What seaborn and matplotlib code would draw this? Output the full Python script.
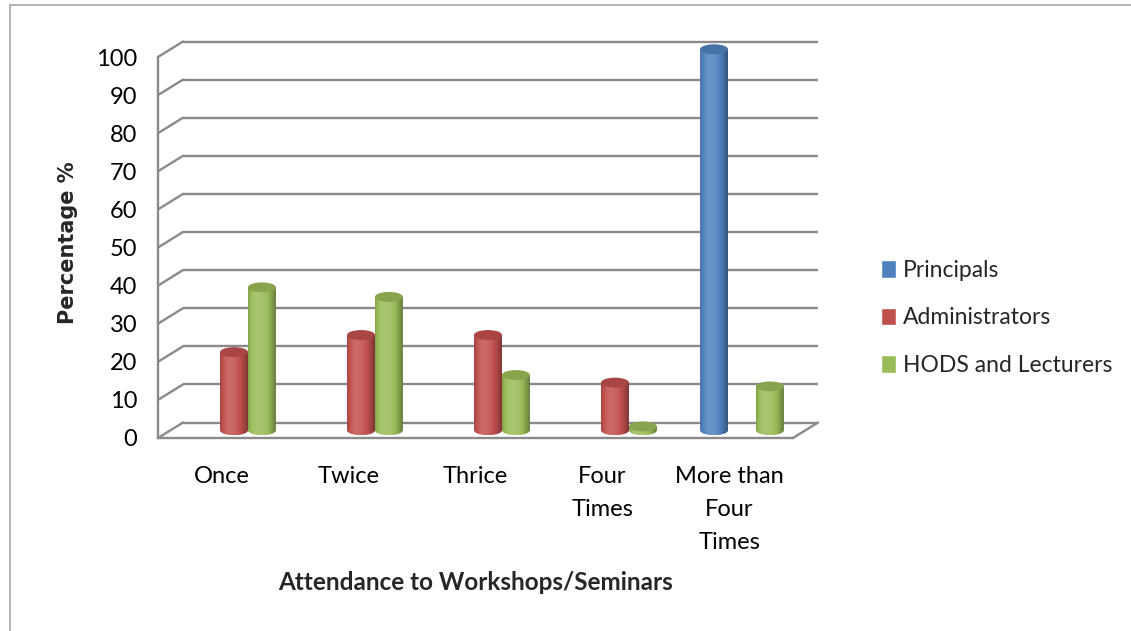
import numpy as np
import pandas as pd
import matplotlib
matplotlib.use("Agg")
import matplotlib.pyplot as plt
import matplotlib.transforms as mtransforms
from matplotlib.patches import Ellipse, Rectangle, Polygon
from matplotlib.colors import to_rgb
import seaborn as sns

# ---- data -------------------------------------------------------------
categories = ["Once", "Twice", "Thrice", "Four\nTimes", "More than\nFour\nTimes"]
series = ["Principals", "Administrators", "HODS and Lecturers"]
principals = [0, 0, 0, 0, 100]
administrators = [20.5, 25, 25, 12.5, 0]
hods_lecturers = [37.5, 35, 14.5, 1, 11.5]
y_ticks = list(range(0, 101, 10))
colors = ["#4F81BD", "#C0504D", "#9BBB59"]

df = pd.DataFrame({
    "Attendance": categories * 3,
    "Group": np.repeat(series, len(categories)),
    "Percentage": principals + administrators + hods_lecturers,
})

# ---- style ------------------------------------------------------------
sns.set_style("white")
plt.rcParams["font.family"] = ["Lato", "DejaVu Sans"]
GRID = "#8a8a8a"
FS = 17

W, H = 1131, 631
fig = plt.figure(figsize=(W / 100, H / 100), dpi=100)
ax = fig.add_axes([158 / W, 1 - 438 / H, (793 - 158) / W, (438 - 57) / H])

sns.barplot(data=df, x="Attendance", y="Percentage", hue="Group",
            order=categories, hue_order=series, palette=colors,
            width=0.66, saturation=1, ax=ax, legend=True, zorder=3)

ax.set_xlim(-0.5, 4.5)
ax.set_ylim(0, 100)
ax.set_xlabel("")
ax.set_ylabel("")


def shifted(dx, dy):
    """Data transform pushed back by (dx, dy) pixels to fake depth."""
    return ax.transData + mtransforms.ScaledTranslation(dx / 100, dy / 100,
                                                        fig.dpi_scale_trans)


DX, DY = 25, 15.5
back = shifted(DX, DY)
mid = shifted(DX / 2, DY / 2)

# ---- back wall gridlines, floor and side diagonals ----------------------
for v in y_ticks:
    ax.plot([-0.5, 4.5], [v, v], transform=back, color=GRID, lw=1.7,
            clip_on=False, zorder=1, solid_capstyle="butt")
    ax.annotate("", xy=(-0.5, v), xytext=(DX, DY), textcoords="offset pixels",
                annotation_clip=False,
                arrowprops=dict(arrowstyle="-", color=GRID, lw=1.7,
                                shrinkA=0, shrinkB=0))
ax.annotate("", xy=(4.5, 0), xytext=(DX, DY), textcoords="offset pixels",
            annotation_clip=False,
            arrowprops=dict(arrowstyle="-", color=GRID, lw=1.7,
                            shrinkA=0, shrinkB=0))

for side in ["top", "right"]:
    ax.spines[side].set_visible(False)
for side in ["left", "bottom"]:
    ax.spines[side].set_color(GRID)
    ax.spines[side].set_linewidth(1.7)

# ---- ticks --------------------------------------------------------------
ax.set_yticks(y_ticks)
ax.set_yticklabels([str(t) for t in y_ticks])
ax.tick_params(axis="y", length=4, width=1.4, color=GRID, pad=11,
               labelsize=FS, labelcolor="black")
ax.set_xticks(np.arange(-0.5, 5.0, 1.0))
ax.set_xticklabels([""] * 6)
ax.set_xticks(range(len(categories)), minor=True)
ax.set_xticklabels(categories, minor=True, linespacing=1.72)
ax.tick_params(axis="x", which="major", length=7, width=1.4, color=GRID)
ax.tick_params(axis="x", which="minor", length=0, pad=20, labelsize=FS,
               labelcolor="black")
for lab in ax.get_xticklabels(minor=True):
    lab.set_verticalalignment("top")


# ---- cylinder shading ---------------------------------------------------
def shade(c, s):
    c = np.asarray(c)
    return c + (1 - c) * s if s > 0 else c * (1 + s)


t = np.linspace(0, 1, 80)
profile = np.where(t < 0.35,
                   0.15 - 0.30 * ((0.35 - t) / 0.35) ** 2,
                   0.15 - 0.50 * ((t - 0.35) / 0.65) ** 2)

ELL = 2.6  # ellipse height in data units
for container in ax.containers:
    for bar in container:
        h = bar.get_height()
        bar.set_transform(mid)
        bar.set_visible(False)
        if h <= 0:
            continue
        x0, w = bar.get_x(), bar.get_width()
        base = to_rgb(bar.get_facecolor())
        rgb = np.array([[shade(base, s) for s in profile]] * 2)

        theta = np.linspace(np.pi, 2 * np.pi, 40)
        arc = np.column_stack([x0 + w / 2 + (w / 2) * np.cos(theta),
                               (ELL / 2) * np.sin(theta)])
        outline = np.vstack([[x0, h], arc, [x0 + w, h]])
        clip = Polygon(outline, closed=True, transform=mid)

        im = ax.imshow(rgb, extent=(x0, x0 + w, -ELL / 2, h), aspect="auto",
                       interpolation="bilinear", zorder=3.2, transform=mid)
        im.set_clip_box(fig.bbox)
        im.set_clip_path(clip)

        ax.add_patch(Ellipse((x0 + w / 2, h), w, ELL, transform=mid,
                             facecolor=shade(base, -0.12), edgecolor="none",
                             zorder=3.4, clip_on=False))

ax.set_xlim(-0.5, 4.5)
ax.set_ylim(0, 100)

# ---- legend -------------------------------------------------------------
handles, labels = ax.get_legend_handles_labels()
if ax.get_legend() is not None:
    ax.get_legend().remove()
fig.legend(handles, labels, loc="center left",
           bbox_to_anchor=(881 / W, 1 - 318 / H), bbox_transform=fig.transFigure,
           frameon=False, fontsize=16.5, handlelength=0.65, handleheight=0.8,
           handletextpad=0.3, labelspacing=1.15, borderpad=0, borderaxespad=0)

# ---- axis titles --------------------------------------------------------
fig.text(68 / W, 1 - 243 / H, "Percentage %", rotation=90, fontsize=15,
         fontweight="bold", ha="center", va="center", family="DejaVu Sans")
fig.text(476 / W, 1 - 582 / H, "Attendance to Workshops/Seminars",
         fontsize=17.5, fontweight="bold", ha="center", va="center")

# ---- chart area border --------------------------------------------------
fig.patches.append(Rectangle((10 / W, -0.1), 1.2, 1.1 - 5 / H,
                             transform=fig.transFigure, fill=False,
                             edgecolor="#a6a6a6", lw=1.2))

fig.savefig("out.png", dpi=100)
